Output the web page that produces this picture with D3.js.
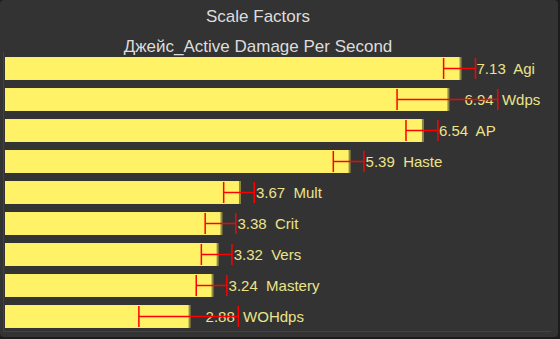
<!DOCTYPE html>
<html>
<head>
<meta charset="utf-8">
<script src="https://d3js.org/d3.v7.min.js"></script>
<style>
body { margin: 0; background: #1c1c1c; }
</style>
</head>
<body>
<script>
var stats = ["Agi", "Wdps", "AP", "Haste", "Mult", "Crit", "Vers", "Mastery", "WOHdps"];
var values = [7.13, 6.94, 6.54, 5.39, 3.67, 3.38, 3.32, 3.24, 2.88];
var errors = [0.25, 0.79, 0.25, 0.24, 0.24, 0.24, 0.24, 0.24, 0.78];

var svg = d3.select("body")
    .append("svg")
    .attr("width", "560")
    .attr("height", "339")
    .style("display", "block");

svg.append("rect")
    .attr("x", 0).attr("y", 0)
    .attr("width", 558).attr("height", 337)
    .attr("rx", 4)
    .attr("fill", "#333333");

var x = d3.scaleLinear()
    .domain([0, 8])
    .range([5, 515]);

var y = d3.scaleBand()
    .domain(stats)
    .range([53, 332])
    .paddingInner(0.26)
    .paddingOuter(0.13);

// axis frame lines
svg.append("line")
    .attr("x1", 3.5).attr("x2", 3.5)
    .attr("y1", 52).attr("y2", 332)
    .attr("stroke", "#434343");
svg.append("line")
    .attr("x1", 3).attr("x2", 551)
    .attr("y1", 331.5).attr("y2", 331.5)
    .attr("stroke", "#434343");

var data = stats.map(function(s, i) {
    return {stat: s, value: values[i], error: errors[i]};
});

var g = svg.append("g");

// bar shadow
g.selectAll("rect.shadow")
    .data(data)
    .enter()
    .append("rect")
    .attr("class", "shadow")
    .attr("x", x(0))
    .attr("y", function(d) { return y(d.stat); })
    .attr("width", function(d) { return x(d.value) - x(0) + 2; })
    .attr("height", y.bandwidth())
    .attr("fill", "#8c8a45");

g.selectAll("rect.bar")
    .data(data)
    .enter()
    .append("rect")
    .attr("class", "bar")
    .attr("x", x(0))
    .attr("y", function(d) { return y(d.stat); })
    .attr("width", function(d) { return x(d.value) - x(0); })
    .attr("height", y.bandwidth())
    .attr("fill", "#fff266");

g.selectAll("text.val")
    .data(data)
    .enter()
    .append("text")
    .attr("class", "val")
    .attr("x", function(d) { return x(d.value) + 17; })
    .attr("y", function(d) { return y(d.stat) + y.bandwidth() / 2 + 5; })
    .attr("fill", "#ece38a")
    .style("font-family", "Liberation Sans, Arial, sans-serif")
    .style("font-size", "15px")
    .attr("xml:space", "preserve")
    .text(function(d) { return d3.format(".2f")(d.value) + "  " + d.stat; });

var err = g.selectAll("g.err")
    .data(data)
    .enter()
    .append("g")
    .attr("class", "err")
    .attr("stroke", "#ff0000")
    .attr("stroke-width", 1.5);

err.append("line")
    .attr("x1", function(d) { return x(d.value - d.error); })
    .attr("x2", function(d) { return x(d.value + d.error); })
    .attr("y1", function(d) { return y(d.stat) + y.bandwidth() / 2; })
    .attr("y2", function(d) { return y(d.stat) + y.bandwidth() / 2; });

err.append("line")
    .attr("x1", function(d) { return x(d.value - d.error); })
    .attr("x2", function(d) { return x(d.value - d.error); })
    .attr("y1", function(d) { return y(d.stat) + 1; })
    .attr("y2", function(d) { return y(d.stat) + y.bandwidth() - 1; });

err.append("line")
    .attr("x1", function(d) { return x(d.value + d.error); })
    .attr("x2", function(d) { return x(d.value + d.error); })
    .attr("y1", function(d) { return y(d.stat) + 1; })
    .attr("y2", function(d) { return y(d.stat) + y.bandwidth() - 1; });

svg.append("text")
    .attr("x", 258)
    .attr("y", 22)
    .attr("text-anchor", "middle")
    .attr("fill", "#dddddd")
    .style("font-family", "Liberation Sans, Arial, sans-serif")
    .style("font-size", "17px")
    .text("Scale Factors");

svg.append("text")
    .attr("x", 258)
    .attr("y", 52)
    .attr("text-anchor", "middle")
    .attr("fill", "#dddddd")
    .style("font-family", "Liberation Sans, Arial, sans-serif")
    .style("font-size", "17px")
    .text("Джейс_Active Damage Per Second");
</script>
</body>
</html>
